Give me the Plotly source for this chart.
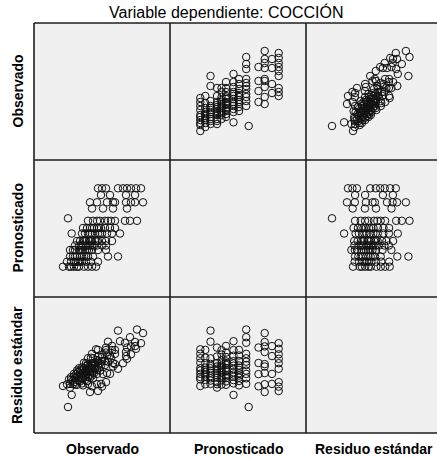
import plotly.graph_objects as go
from plotly.subplots import make_subplots

titulo = "Variable dependiente: COCCIÓN"
variables = ["Observado", "Pronosticado", "Residuo estándar"]

observado = [
    64, 68, 72, 84, 89, 93, 97, 102, 107,
    67, 76, 92, 101,
    56, 63, 73, 79, 81, 92, 97, 101, 109,
    58, 69, 79, 93,
    34,
    54, 59, 63, 66, 71, 74, 77, 81, 91, 96, 103,
    49, 53, 56, 58, 60, 63, 65, 67, 71, 76, 81,
    37.7, 48, 51, 54, 56, 58, 61, 64, 66, 68, 73, 78, 86,
    43, 46, 49, 50.5, 52, 55, 56.5, 58, 61, 62.5, 64, 68, 72, 78,
    41, 45, 47, 49, 52, 54, 56, 58, 60, 63, 68, 72,
    36, 39, 41, 45, 47, 49, 51, 53, 55, 58, 64, 72,
    36, 39, 41, 43, 46, 48, 50, 52, 54, 59, 74, 84,
    33, 37, 40, 42, 44, 46, 48, 52, 57, 64,
    29, 35, 37, 40, 43, 45, 50, 54, 58, 62,
]

pronosticado = [
    108.7, 108.7, 108.7, 108.7, 108.7, 108.7, 108.7, 108.7, 108.7,
    102.0, 102.0, 102.0, 102.0,
    94.7, 94.7, 94.7, 94.7, 94.7, 94.7, 94.7, 94.7, 94.7,
    88.5, 88.5, 88.5, 88.5,
    78.7,
    76.2, 76.2, 76.2, 76.2, 76.2, 76.2, 76.2, 76.2, 76.2, 76.2, 76.2,
    69.0, 69.0, 69.0, 69.0, 69.0, 69.0, 69.0, 69.0, 69.0, 69.0, 69.0,
    63.5, 63.5, 63.5, 63.5, 63.5, 63.5, 63.5, 63.5, 63.5, 63.5, 63.5, 63.5, 63.5,
    56.0, 56.0, 56.0, 56.0, 56.0, 56.0, 56.0, 56.0, 56.0, 56.0, 56.0, 56.0, 56.0, 56.0,
    51.5, 51.5, 51.5, 51.5, 51.5, 51.5, 51.5, 51.5, 51.5, 51.5, 51.5, 51.5,
    47.0, 47.0, 47.0, 47.0, 47.0, 47.0, 47.0, 47.0, 47.0, 47.0, 47.0, 47.0,
    40.5, 40.5, 40.5, 40.5, 40.5, 40.5, 40.5, 40.5, 40.5, 40.5, 40.5, 40.5,
    35.3, 35.3, 35.3, 35.3, 35.3, 35.3, 35.3, 35.3, 35.3, 35.3,
    30.3, 30.3, 30.3, 30.3, 30.3, 30.3, 30.3, 30.3, 30.3, 30.3,
]

residuo = [
    42.0, 46.4, 50.9, 64.2, 69.8, 74.2, 78.7, 84.2, 89.8,
    49.1, 59.1, 76.9, 86.9,
    41.0, 48.8, 59.9, 66.5, 68.9, 81.0, 86.6, 91.0, 99.9,
    46.7, 58.9, 70.0, 85.5,
    26.0,
    49.1, 54.7, 59.1, 62.4, 68.0, 71.3, 74.7, 79.1, 90.2, 95.8, 103.5,
    47.6, 52.0, 55.3, 57.5, 59.8, 63.1, 65.3, 67.5, 72.0, 77.5, 83.1,
    38.1, 49.6, 52.9, 56.2, 58.4, 60.7, 64.0, 67.3, 69.6, 71.8, 77.3, 82.9, 91.8,
    48.2, 51.6, 54.9, 56.6, 58.2, 61.6, 63.2, 64.9, 68.2, 69.9, 71.6, 76.0, 80.4, 87.1,
    48.4, 52.9, 55.1, 57.3, 60.7, 62.9, 65.1, 67.3, 69.5, 72.9, 78.4, 82.9,
    45.4, 48.8, 51.0, 55.4, 57.7, 59.9, 62.1, 64.3, 66.5, 69.9, 76.5, 85.4,
    49.1, 52.4, 54.7, 56.9, 60.2, 62.4, 64.7, 66.9, 69.1, 74.7, 91.3, 102.4,
    48.7, 53.1, 56.4, 58.7, 60.9, 63.1, 65.3, 69.8, 75.3, 83.1,
    47.0, 53.7, 55.9, 59.2, 62.5, 64.8, 70.3, 74.8, 79.2, 83.7,
]

datos = {"Observado": observado, "Pronosticado": pronosticado, "Residuo estándar": residuo}

W, H = 437, 459
ML, MR, MT, MB = 34, 0, 23, 26
col_px = [136, 136, 131]
row_px = [137, 137, 136]
PW = sum(col_px)
PH = sum(row_px)

fig = make_subplots(rows=3, cols=3, horizontal_spacing=0, vertical_spacing=0,
                    column_widths=col_px, row_heights=row_px)

for r, vy in enumerate(variables):
    for c, vx in enumerate(variables):
        if r != c:
            fig.add_trace(go.Scatter(
                x=datos[vx], y=datos[vy], mode="markers",
                marker=dict(symbol="circle-open", size=7.5, color="#111111",
                            line=dict(width=1, color="#111111")),
                showlegend=False, hoverinfo="skip"), row=r + 1, col=c + 1)
        fig.update_xaxes(range=[0, col_px[c]], row=r + 1, col=c + 1)
        fig.update_yaxes(range=[0, row_px[r]], row=r + 1, col=c + 1)

fig.update_xaxes(showgrid=False, zeroline=False, showticklabels=False, ticks="",
                 showline=False, fixedrange=True)
fig.update_yaxes(showgrid=False, zeroline=False, showticklabels=False, ticks="",
                 showline=False, fixedrange=True)

def px_x(p):
    return (p - ML) / PW

def px_y(p):
    return (H - MB - p) / PH

shapes = [dict(type="rect", xref="paper", yref="paper", x0=0, x1=1, y0=0, y1=1,
               fillcolor="#f0f0f0", line=dict(width=0), layer="below")]
line = dict(color="#1e1e1e", width=1.6)
for xp in [34, 170, 306]:
    shapes.append(dict(type="line", xref="paper", yref="paper",
                       x0=px_x(xp), x1=px_x(xp), y0=0, y1=1, line=line))
for yp in [23, 160, 297, 433]:
    shapes.append(dict(type="line", xref="paper", yref="paper",
                       x0=0, x1=1, y0=px_y(yp), y1=px_y(yp), line=line))

font_lab = dict(family="Liberation Sans, Arial, sans-serif", size=14, color="black")
annotations = [
    dict(text=titulo, xref="paper", yref="paper", x=px_x(226.5), y=px_y(12),
         showarrow=False, xanchor="center", yanchor="middle",
         font=dict(family="Liberation Sans, Arial, sans-serif", size=16, color="black")),
]
row_centers = [91.5, 228.5, 365]
col_centers = [102, 238, 374]
for name, yc in zip(variables, row_centers):
    annotations.append(dict(text="<b>%s</b>" % name, xref="paper", yref="paper",
                            x=px_x(17), y=px_y(yc), textangle=-90, showarrow=False,
                            xanchor="center", yanchor="middle", font=font_lab))
for name, xc in zip(variables, col_centers):
    annotations.append(dict(text="<b>%s</b>" % name, xref="paper", yref="paper",
                            x=px_x(xc), y=px_y(448.5), showarrow=False,
                            xanchor="center", yanchor="middle", font=font_lab))

fig.update_layout(
    width=W, height=H,
    margin=dict(l=ML, r=MR, t=MT, b=MB, pad=0),
    paper_bgcolor="white", plot_bgcolor="rgba(0,0,0,0)",
    shapes=shapes, annotations=annotations, showlegend=False,
)

fig.write_html("out.html", config={"displayModeBar": False},
               post_script="document.body.style.margin='0';document.body.style.overflow='hidden';")
